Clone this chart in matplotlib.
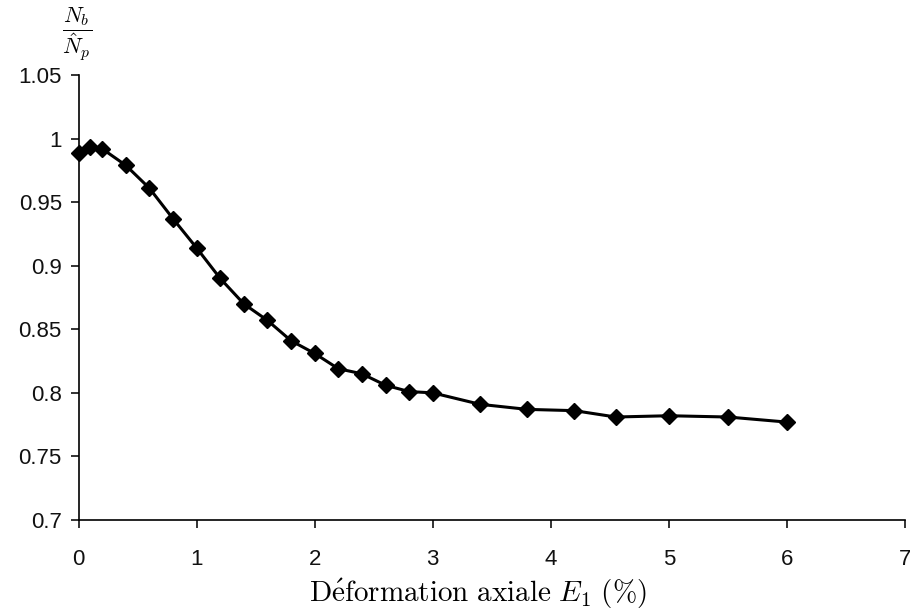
import matplotlib
matplotlib.use('Agg')
import matplotlib.pyplot as plt

# Valeurs
deformation = [0, 0.1, 0.2, 0.4, 0.6, 0.8, 1.0, 1.2, 1.4, 1.6, 1.8, 2.0, 2.2, 2.4,
               2.6, 2.8, 3.0, 3.4, 3.8, 4.2, 4.55, 5.0, 5.5, 6.0]
rapport = [0.989, 0.993, 0.992, 0.979, 0.961, 0.937, 0.914, 0.890, 0.870, 0.857,
           0.841, 0.831, 0.819, 0.815, 0.806, 0.801, 0.800, 0.791, 0.787, 0.786,
           0.781, 0.782, 0.781, 0.777]

xticks = [0, 1, 2, 3, 4, 5, 6, 7]
yticks = [0.7, 0.75, 0.8, 0.85, 0.9, 0.95, 1, 1.05]
ytick_labels = ['0.7', '0.75', '0.8', '0.85', '0.9', '0.95', '1', '1.05']

plt.rcParams['mathtext.fontset'] = 'cm'
plt.rcParams['font.family'] = ['Liberation Sans', 'DejaVu Sans']

fig = plt.figure(figsize=(9.1, 6.15), dpi=100)
ax = fig.add_axes([0.0863, 0.1545, 0.9082, 0.7235])

ax.plot(deformation, rapport, color='black', lw=2.2, marker='D', ms=8,
        clip_on=False, zorder=3)

ax.set_xlim(0, 7)
ax.set_ylim(0.7, 1.05)
ax.set_xticks(xticks)
ax.set_yticks(yticks)
ax.set_yticklabels(ytick_labels)

for s in ['top', 'right']:
    ax.spines[s].set_visible(False)
for s in ['left', 'bottom']:
    ax.spines[s].set_linewidth(1.2)

ax.tick_params(axis='x', direction='out', length=6, width=1.2, pad=15,
               labelsize=16, colors='#111111')
ax.tick_params(axis='y', direction='out', length=6, width=1.2, pad=6,
               labelsize=16, colors='#111111')

fig.text(478 / 910, 1 - 594 / 615,
         r'$\mathrm{D\acute{e}formation\ axiale}\ E_1\ (\%)$', fontsize=21,
         ha='center', va='center')

fig.text(77 / 910, 1 - 34 / 615, r'$\dfrac{N_b}{\hat{N}_p}$', fontsize=16,
         ha='center', va='center')

plt.savefig('out.png', dpi=100)
plt.close()
